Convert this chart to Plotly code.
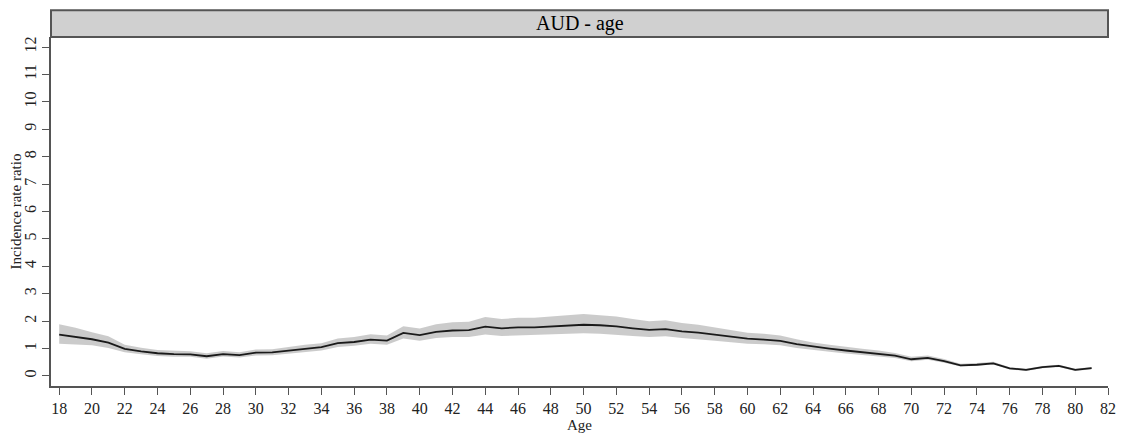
import plotly.graph_objects as go

ages = list(range(18, 82))
irr = [1.51, 1.43, 1.34, 1.22, 0.99, 0.90, 0.83, 0.80, 0.79, 0.72,
       0.80, 0.76, 0.85, 0.86, 0.93, 1.00, 1.05, 1.20, 1.24, 1.33,
       1.29, 1.57, 1.49, 1.61, 1.66, 1.67, 1.80, 1.74, 1.77, 1.77,
       1.81, 1.84, 1.87, 1.85, 1.81, 1.74, 1.68, 1.71, 1.63, 1.58,
       1.51, 1.43, 1.36, 1.33, 1.28, 1.16, 1.07, 1.00, 0.93, 0.87,
       0.82, 0.74, 0.61, 0.66, 0.54, 0.39, 0.41, 0.46, 0.28, 0.22,
       0.32, 0.37, 0.22, 0.29]
lower = [1.18, 1.16, 1.12, 1.02, 0.87, 0.79, 0.73, 0.70, 0.70, 0.63,
         0.71, 0.67, 0.75, 0.76, 0.82, 0.88, 0.93, 1.06, 1.10, 1.18,
         1.14, 1.37, 1.29, 1.39, 1.42, 1.42, 1.51, 1.46, 1.48, 1.48,
         1.51, 1.53, 1.56, 1.54, 1.51, 1.46, 1.42, 1.45, 1.39, 1.35,
         1.29, 1.23, 1.18, 1.16, 1.12, 1.02, 0.94, 0.88, 0.82, 0.77,
         0.73, 0.66, 0.54, 0.59, 0.48, 0.35, 0.37, 0.42, 0.24, 0.18,
         0.28, 0.33, 0.18, 0.25]
upper = [1.89, 1.76, 1.60, 1.45, 1.14, 1.03, 0.95, 0.92, 0.90, 0.83,
         0.91, 0.87, 0.97, 0.98, 1.06, 1.14, 1.19, 1.37, 1.42, 1.52,
         1.48, 1.81, 1.73, 1.89, 1.96, 1.98, 2.15, 2.08, 2.12, 2.12,
         2.17, 2.21, 2.26, 2.22, 2.17, 2.08, 2.00, 2.03, 1.93, 1.87,
         1.77, 1.67, 1.58, 1.54, 1.48, 1.34, 1.22, 1.14, 1.06, 0.99,
         0.93, 0.84, 0.70, 0.75, 0.62, 0.45, 0.47, 0.52, 0.32, 0.26,
         0.36, 0.41, 0.26, 0.33]

x_ticks = list(range(18, 83, 2))
y_ticks = list(range(0, 13))
panel_title = "AUD - age"
x_title = "Age"
y_title = "Incidence rate ratio"

FONT = "Liberation Serif, Times New Roman, serif"
AXC = "#555555"

fig = go.Figure()
fig.add_trace(go.Scatter(x=ages, y=upper, mode="lines", line=dict(width=0),
                         hoverinfo="skip", showlegend=False))
fig.add_trace(go.Scatter(x=ages, y=lower, mode="lines", line=dict(width=0),
                         fill="tonexty", fillcolor="rgba(190,190,190,0.8)",
                         hoverinfo="skip", showlegend=False))
fig.add_trace(go.Scatter(x=ages, y=irr, mode="lines",
                         line=dict(color="#1a1a1a", width=1.8),
                         showlegend=False))

fig.add_shape(type="rect", xref="paper", yref="paper", x0=0, x1=1,
              y0=1.0, y1=1.077, fillcolor="#d0d0d0",
              line=dict(color=AXC, width=2), layer="above")
fig.add_annotation(xref="paper", yref="paper", x=0.5, y=1.0385,
                   text=panel_title, showarrow=False,
                   font=dict(family=FONT, size=20, color="#000"),
                   xanchor="center", yanchor="middle")

# page body adds an 8px offset, so the figure is sized/margined to compensate
fig.update_layout(
    width=1116, height=426,
    margin=dict(l=43, r=16, t=29, b=48, pad=0),
    paper_bgcolor="white", plot_bgcolor="white",
    font=dict(family=FONT, size=15, color="#222"),
    xaxis=dict(range=[17.5, 82], tickvals=x_ticks, ticktext=[str(v) for v in x_ticks],
               showgrid=False, zeroline=False, showline=True, linecolor=AXC,
               linewidth=1.5, ticks="outside", ticklen=7, tickcolor=AXC,
               tickwidth=1.2, automargin=False,
               tickfont=dict(size=16, family=FONT, color="#222"),
               title=dict(text=x_title, standoff=0, font=dict(size=15, family=FONT))),
    yaxis=dict(range=[-0.365, 12.365], tickvals=y_ticks, ticktext=[str(v) for v in y_ticks],
               showgrid=False, zeroline=False, showline=True, linecolor=AXC,
               linewidth=1.5, ticks="outside", ticklen=7, tickcolor=AXC,
               tickwidth=1.2, tickangle=-90, automargin=False,
               tickfont=dict(size=16, family=FONT, color="#222"),
               title=dict(text=y_title, standoff=2, font=dict(size=15, family=FONT))),
)

fig.write_html("out.html")
